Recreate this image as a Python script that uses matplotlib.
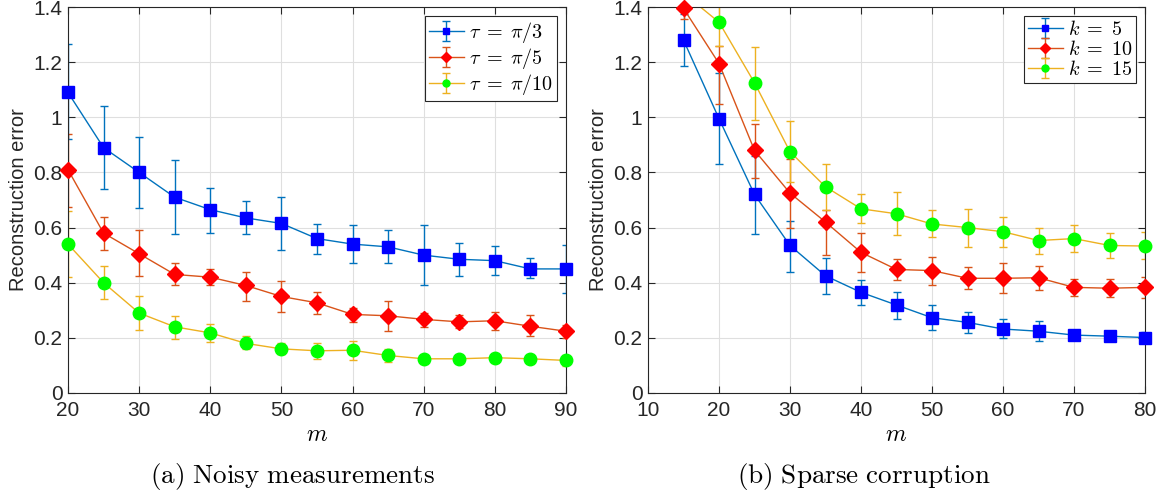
import matplotlib
matplotlib.use('Agg')
import matplotlib.pyplot as plt

plt.rcParams['font.family'] = ['Liberation Sans', 'DejaVu Sans']
plt.rcParams['mathtext.fontset'] = 'cm'

# (a) noisy measurements
m_a = [20, 25, 30, 35, 40, 45, 50, 55, 60, 65, 70, 75, 80, 85, 90]
tau3_mean = [1.09, 0.89, 0.80, 0.71, 0.665, 0.635, 0.615, 0.56, 0.54, 0.53, 0.50, 0.485, 0.48, 0.45, 0.45]
tau3_lo = [0.92, 0.74, 0.67, 0.575, 0.58, 0.575, 0.52, 0.503, 0.47, 0.47, 0.39, 0.425, 0.427, 0.416, 0.361]
tau3_hi = [1.265, 1.04, 0.93, 0.845, 0.745, 0.695, 0.71, 0.613, 0.61, 0.59, 0.61, 0.545, 0.533, 0.488, 0.537]
tau5_mean = [0.81, 0.58, 0.505, 0.43, 0.42, 0.39, 0.35, 0.327, 0.285, 0.28, 0.267, 0.258, 0.262, 0.242, 0.224]
tau5_lo = [0.675, 0.52, 0.425, 0.39, 0.39, 0.335, 0.295, 0.288, 0.258, 0.225, 0.24, 0.234, 0.23, 0.206, 0.201]
tau5_hi = [0.94, 0.64, 0.59, 0.47, 0.45, 0.44, 0.405, 0.367, 0.31, 0.335, 0.29, 0.282, 0.295, 0.282, 0.246]
tau10_mean = [0.54, 0.40, 0.29, 0.24, 0.218, 0.18, 0.16, 0.153, 0.155, 0.136, 0.124, 0.124, 0.128, 0.124, 0.118]
tau10_lo = [0.42, 0.34, 0.23, 0.197, 0.185, 0.16, 0.14, 0.125, 0.12, 0.113, 0.11, 0.112, 0.116, 0.112, 0.097]
tau10_hi = [0.66, 0.46, 0.35, 0.28, 0.25, 0.205, 0.18, 0.18, 0.19, 0.16, 0.135, 0.136, 0.14, 0.136, 0.137]

# (b) sparse corruption
m_b = [15, 20, 25, 30, 35, 40, 45, 50, 55, 60, 65, 70, 75, 80]
k5_mean = [1.28, 0.995, 0.72, 0.535, 0.425, 0.365, 0.319, 0.273, 0.256, 0.232, 0.224, 0.21, 0.206, 0.201]
k5_lo = [1.185, 0.83, 0.575, 0.44, 0.36, 0.32, 0.27, 0.228, 0.219, 0.201, 0.189, 0.198, 0.19, 0.185]
k5_hi = [1.375, 1.16, 0.86, 0.625, 0.49, 0.41, 0.367, 0.319, 0.295, 0.267, 0.262, 0.222, 0.225, 0.22]
k10_mean = [1.395, 1.195, 0.88, 0.725, 0.62, 0.51, 0.448, 0.444, 0.416, 0.416, 0.418, 0.383, 0.38, 0.383]
k10_lo = [1.355, 1.05, 0.78, 0.60, 0.50, 0.44, 0.41, 0.39, 0.376, 0.364, 0.373, 0.352, 0.349, 0.343]
k10_hi = [1.435, 1.26, 0.975, 0.85, 0.665, 0.58, 0.485, 0.495, 0.458, 0.473, 0.46, 0.412, 0.412, 0.422]
k15_mean = [1.45, 1.345, 1.125, 0.875, 0.748, 0.668, 0.65, 0.613, 0.60, 0.585, 0.553, 0.56, 0.535, 0.533]
k15_lo = [1.40, 1.26, 0.99, 0.765, 0.665, 0.617, 0.572, 0.564, 0.531, 0.531, 0.503, 0.51, 0.49, 0.486]
k15_hi = [1.50, 1.42, 1.255, 0.985, 0.83, 0.72, 0.728, 0.662, 0.668, 0.638, 0.598, 0.61, 0.579, 0.583]

labels_a = [r'$\tau\;=\;\pi/3$', r'$\tau\;=\;\pi/5$', r'$\tau\;=\;\pi/10$']
labels_b = [r'$k\;=\;5$', r'$k\;=\;10$', r'$k\;=\;15$']
captions = [r'$\mathrm{(a)\ Noisy\ measurements}$', r'$\mathrm{(b)\ Sparse\ corruption}$']

line_cols = ['#0072BD', '#D95319', '#EDB120']
mark_cols = ['#0000FF', '#FF0000', '#00FF00']
markers = ['s', 'D', 'o']
msizes = [8, 8.5, 9]

fig = plt.figure(figsize=(11.64, 4.97), dpi=100)
ax1 = fig.add_axes([0.0584, 0.2093, 0.4278, 0.7766])
ax2 = fig.add_axes([0.5567, 0.2093, 0.4270, 0.7766])


def draw(ax, x, series, labels, ytop=1.4):
    for i, (mean, lo, hi) in enumerate(series):
        err = [[mv - l for mv, l in zip(mean, lo)], [h - mv for mv, h in zip(mean, hi)]]
        ax.errorbar(x, mean, yerr=err, color=line_cols[i], lw=1.0, elinewidth=1.0,
                    capsize=3, capthick=1.0, marker=markers[i], ms=5,
                    mfc=mark_cols[i], mec=mark_cols[i], label=labels[i],
                    markevery=[])
        # markers are not clipped at the box, as long as they sit inside the limits
        xs = [a for a, b in zip(x, mean) if b <= ytop]
        ys = [b for b in mean if b <= ytop]
        ax.plot(xs, ys, ls='none', marker=markers[i], ms=msizes[i],
                mfc=mark_cols[i], mec=mark_cols[i], clip_on=False, zorder=3)
    ax.set_ylim(0, ytop)
    ax.set_yticks([0, 0.2, 0.4, 0.6, 0.8, 1.0, 1.2, 1.4])
    ax.set_yticklabels(['0', '0.2', '0.4', '0.6', '0.8', '1', '1.2', '1.4'])
    ax.grid(True, color='#DFDFDF', lw=0.8)
    ax.set_axisbelow(True)
    ax.tick_params(direction='in', top=True, right=True, labelsize=15, length=5,
                   colors='#262626', pad=4)
    ax.tick_params(axis='x', pad=6)
    for s in ax.spines.values():
        s.set_color('#262626')
        s.set_linewidth(0.8)
    ax.set_ylabel('Reconstruction error', fontsize=14.5, color='#262626', labelpad=4)
    ax.set_xlabel(r'$m$', fontsize=17, labelpad=3)
    leg = ax.legend(loc='upper right', fontsize=14.5, fancybox=False, framealpha=1,
                    edgecolor='#262626', handlelength=1.7, borderpad=0.2,
                    labelspacing=0.05, handletextpad=0.25, markerscale=1.0,
                    borderaxespad=0.45)
    leg.get_frame().set_linewidth(0.8)


draw(ax1, m_a, [(tau3_mean, tau3_lo, tau3_hi), (tau5_mean, tau5_lo, tau5_hi),
                (tau10_mean, tau10_lo, tau10_hi)], labels_a)
ax1.set_xlim(20, 90)
ax1.set_xticks(range(20, 91, 10))

draw(ax2, m_b, [(k5_mean, k5_lo, k5_hi), (k10_mean, k10_lo, k10_hi),
                (k15_mean, k15_lo, k15_hi)], labels_b)
ax2.set_xlim(10, 80)
ax2.set_xticks(range(10, 81, 10))

fig.text(293 / 1164, 1 - 477 / 497, captions[0], fontsize=19.5, ha='center', va='center')
fig.text(864 / 1164, 1 - 477 / 497, captions[1], fontsize=19.5, ha='center', va='center')

fig.savefig('out.png', dpi=100)
